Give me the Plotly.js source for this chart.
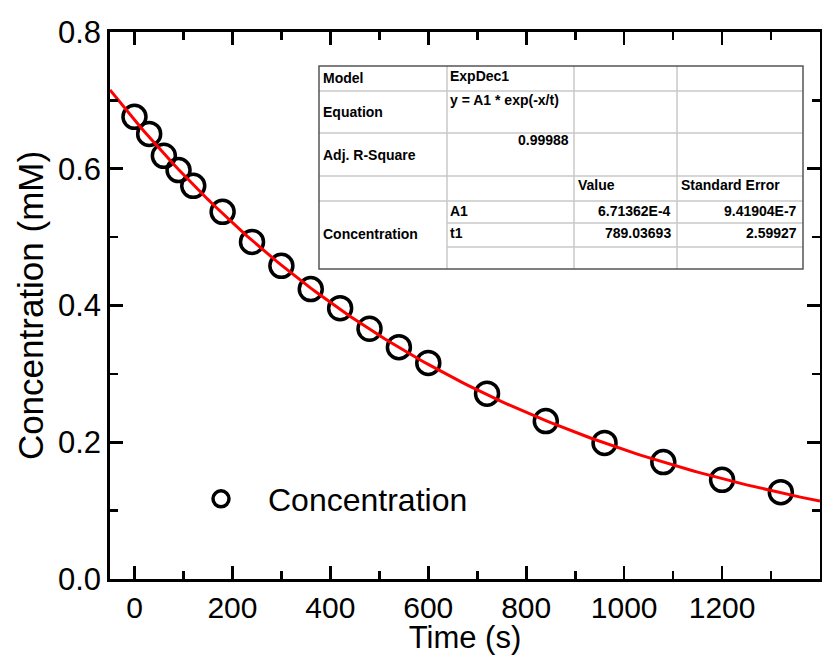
<!DOCTYPE html>
<html><head><meta charset="utf-8">
<script src="https://cdn.plot.ly/plotly-3.0.1.min.js"></script>
<style>html,body{margin:0;padding:0;background:#fff}#chart{width:822px;height:655px}</style>
</head><body><div id="chart"></div>
<script>
// ---- data ----
const timeS = [0, 30, 60, 90, 120, 180, 240, 300, 360, 420, 480, 540, 600, 720, 840, 960, 1080, 1200, 1320];
const concMM = [0.676, 0.651, 0.619, 0.598, 0.575, 0.537, 0.493, 0.458, 0.424, 0.396, 0.366, 0.339, 0.316, 0.271, 0.231, 0.199, 0.171, 0.145, 0.127];
const seriesName = 'Concentration';
const fitModel = 'ExpDec1';
const fitEquation = 'y = A1 * exp(-x/t)';
const fitAdjR2 = '0.99988';
const paramNames = ['A1', 't1'];
const paramValues = ['6.71362E-4', '789.03693'];
const paramErrors = ['9.41904E-7', '2.59927'];
const tableRowLabels = ['Model', 'Equation', 'Adj. R-Square', 'Concentration'];
const tableHeaders = ['Value', 'Standard Error'];
const xTickVals = [0, 200, 400, 600, 800, 1000, 1200];
const xMinorVals = [100, 300, 500, 700, 900, 1100, 1300];
const yTickVals = [0, 0.2, 0.4, 0.6, 0.8];
const yTickText = ['0.0', '0.2', '0.4', '0.6', '0.8'];
const yMinorVals = [0.1, 0.3, 0.5, 0.7];
const xRange = [-50, 1400];
const yRange = [0, 0.8];

// fitted ExpDec1 curve from the reported parameters (A1 in M -> mM)
const fitA1 = parseFloat(paramValues[0]) * 1000;
const fitT1 = parseFloat(paramValues[1]);
const fitX = [];
for (let x = xRange[0]; x <= xRange[1]; x += 10) fitX.push(x);
const fitY = fitX.map(x => fitA1 * Math.exp(-x / fitT1));

// ---- layout helpers ----
const FONT = 'Arial, "Liberation Sans", sans-serif';
const W = 822, H = 655;
const PL = 110, PR = 820, PT = 32, PB = 579;
const px = p => (p - PL) / (PR - PL);
const py = p => (PB - p) / (PB - PT);

const shapes = [];
const annotations = [];
// table background
shapes.push({type: 'rect', xref: 'paper', yref: 'paper', x0: px(319), x1: px(803), y0: py(66), y1: py(269),
  fillcolor: '#fff', line: {width: 0}});
const gridLine = {color: '#c8c8c8', width: 1.5};
[91, 133, 176, 201].forEach(y => shapes.push({type: 'line', xref: 'paper', yref: 'paper',
  x0: px(319), x1: px(803), y0: py(y), y1: py(y), line: gridLine}));
[223, 247].forEach(y => shapes.push({type: 'line', xref: 'paper', yref: 'paper',
  x0: px(447), x1: px(803), y0: py(y), y1: py(y), line: gridLine}));
[447, 574, 677].forEach(x => shapes.push({type: 'line', xref: 'paper', yref: 'paper',
  x0: px(x), x1: px(x), y0: py(66), y1: py(269), line: gridLine}));
shapes.push({type: 'rect', xref: 'paper', yref: 'paper', x0: px(319), x1: px(803), y0: py(66), y1: py(269),
  line: {color: '#555', width: 1.5}});

const tFont = {family: FONT, size: 14, color: '#000', weight: 'bold'};
function cell(text, x, y, anchor) {
  annotations.push({text: text, xref: 'paper', yref: 'paper', x: px(x), y: py(y),
    xanchor: anchor || 'left', yanchor: 'middle', showarrow: false, font: tFont, borderpad: 0});
}
cell(tableRowLabels[0], 322, 78);
cell(tableRowLabels[1], 322, 112);
cell(tableRowLabels[2], 322, 155);
cell(tableRowLabels[3], 322, 234);
cell(fitModel, 449, 76);
cell(fitEquation, 449, 100);
cell(fitAdjR2, 570, 140, 'right');
cell(tableHeaders[0], 577, 185);
cell(tableHeaders[1], 680, 185);
paramNames.forEach((n, i) => {
  const y = [211, 233][i];
  cell(n, 449, y);
  cell(paramValues[i], 672, y, 'right');
  cell(paramErrors[i], 798, y, 'right');
});

const traces = [
  {x: timeS, y: concMM, type: 'scatter', mode: 'markers', name: seriesName,
   marker: {symbol: 'circle-open', size: 23, color: '#000', line: {width: 3.5, color: '#000'}}},
  {x: fitX, y: fitY, type: 'scatter', mode: 'lines', name: 'fit', showlegend: false,
   line: {color: '#ff0000', width: 3}}
];

const axisCommon = {
  showline: true, linecolor: '#000', linewidth: 2.7, mirror: 'ticks',
  ticks: 'inside', ticklen: 13, tickwidth: 2.7, tickcolor: '#000',
  showgrid: false, zeroline: false, tickmode: 'array'
};

const layout = {
  width: W, height: H,
  margin: {l: PL, r: W - PR, t: PT, b: H - PB},
  paper_bgcolor: '#fff', plot_bgcolor: '#fff',
  font: {family: FONT, color: '#000'},
  showlegend: true,
  legend: {x: px(174), xanchor: 'left', y: py(499), yanchor: 'middle', itemwidth: 84,
    font: {family: FONT, size: 32, color: '#000'}, bgcolor: 'rgba(0,0,0,0)', borderwidth: 0},
  xaxis: Object.assign({}, axisCommon, {
    range: xRange, tickvals: xTickVals,
    tickfont: {family: FONT, size: 30, color: '#000'},
    minor: {tickmode: 'array', tickvals: xMinorVals, ticks: 'inside', ticklen: 8, tickwidth: 2.7, tickcolor: '#000', showgrid: false},
    title: {text: 'Time (s)', font: {family: FONT, size: 31, color: '#000'}, standoff: 4}
  }),
  yaxis: Object.assign({}, axisCommon, {
    range: yRange, tickvals: yTickVals, ticktext: yTickText,
    tickfont: {family: FONT, size: 31, color: '#000'},
    minor: {tickmode: 'array', tickvals: yMinorVals, ticks: 'inside', ticklen: 8, tickwidth: 2.7, tickcolor: '#000', showgrid: false},
    title: {text: 'Concentration (mM)', font: {family: FONT, size: 35, color: '#000'}, standoff: 4}
  }),
  shapes: shapes,
  annotations: annotations
};

Plotly.newPlot('chart', traces, layout, {displayModeBar: false, staticPlot: true});
</script>
</body></html>
